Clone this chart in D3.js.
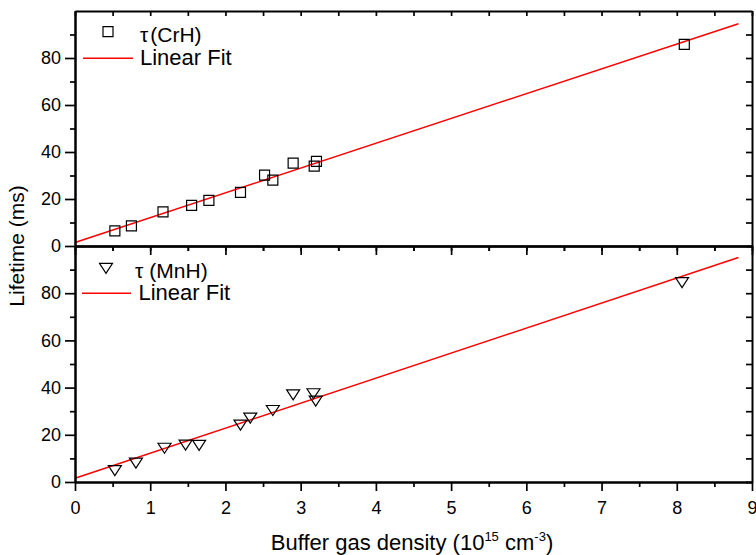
<!DOCTYPE html>
<html>
<head>
<meta charset="utf-8">
<script src="https://cdn.jsdelivr.net/npm/d3@7"></script>
<style>
  html, body { margin: 0; padding: 0; background: #fff; }
  svg { display: block; font-family: "Liberation Sans", Arial, sans-serif; }
</style>
</head>
<body>
<svg id="chart" width="756" height="555"></svg>
<script>
// ---- data ----
const crhDensity = [0.53, 0.75, 1.17, 1.55, 1.78, 2.20, 2.52, 2.63, 2.90, 3.18, 3.21, 8.10];
const crhLifetime = [6.4, 8.6, 14.5, 17.3, 19.4, 22.8, 30.2, 28.0, 35.3, 34.0, 36.0, 85.8];
const mnhDensity = [0.53, 0.81, 1.19, 1.47, 1.65, 2.20, 2.33, 2.63, 2.90, 3.17, 3.20, 8.07];
const mnhLifetime = [4.8, 8.0, 14.3, 15.6, 15.5, 24.1, 27.1, 30.3, 36.9, 37.4, 34.3, 84.5];
const fitX = [0, 8.82];
const fitCrH = [1.5, 94.6];
const fitMnH = [1.6, 95.1];
const xTicks = [0, 1, 2, 3, 4, 5, 6, 7, 8, 9];
const xMinorTicks = [0.5, 1.5, 2.5, 3.5, 4.5, 5.5, 6.5, 7.5, 8.5];
const yTicks = [0, 20, 40, 60, 80];
const yMinorTicks = [10, 30, 50, 70, 90];
const legendCrH = ["τ", "(CrH)"];
const legendMnH = ["τ", "(MnH)"];
const fitLabel = "Linear Fit";
const xTitle = ["Buffer gas density (10", "15", " cm", "-3", ")"];
const yTitle = "Lifetime (ms)";

// ---- layout ----
const svg = d3.select("#chart");
const L = 75, R = 752;
const panels = [
  { top: 11, bottom: 246, xs: crhDensity, ys: crhLifetime, fit: fitCrH, marker: "square", leg: legendCrH },
  { top: 246, bottom: 482, xs: mnhDensity, ys: mnhLifetime, fit: fitMnH, marker: "triangle", leg: legendMnH }
];
const x = d3.scaleLinear().domain([0, 9]).range([L, R]);
const frameW = 2;

function styleAxis(g) {
  g.selectAll("path.domain").attr("stroke", "#000").attr("stroke-width", frameW);
  g.selectAll(".tick line").attr("stroke", "#000").attr("stroke-width", 1.7);
  g.selectAll(".tick text").attr("fill", "#000").attr("font-size", 18)
    .attr("font-family", "'Liberation Sans', Arial, sans-serif");
}

const squareSym = d3.symbol().type(d3.symbolSquare).size(100);
const triSize = { w: 13, h: 10 };

panels.forEach((p, i) => {
  const y = d3.scaleLinear().domain([0, 100]).range([p.bottom, p.top]);
  const g = svg.append("g");

  // fit line
  const line = d3.line().x((d, k) => x(fitX[k])).y(d => y(d));
  g.append("path").datum(p.fit).attr("d", line)
    .attr("fill", "none").attr("stroke", "#ff0000").attr("stroke-width", 1.5);

  // markers
  const pts = p.xs.map((v, k) => [v, p.ys[k]]);
  if (p.marker === "square") {
    g.selectAll("path.pt").data(pts).enter().append("path").attr("class", "pt")
      .attr("d", squareSym)
      .attr("transform", d => `translate(${x(d[0])},${y(d[1])})`)
      .attr("fill", "none").attr("stroke", "#000").attr("stroke-width", 1.2);
  } else {
    const tri = `M${-triSize.w/2},${-triSize.h/2}L${triSize.w/2},${-triSize.h/2}L0,${triSize.h/2}Z`;
    g.selectAll("path.pt").data(pts).enter().append("path").attr("class", "pt")
      .attr("d", tri)
      .attr("transform", d => `translate(${x(d[0])},${y(d[1])})`)
      .attr("fill", "none").attr("stroke", "#000").attr("stroke-width", 1.2);
  }

  // left axis major + minor
  const la = g.append("g").attr("transform", `translate(${L},0)`)
    .call(d3.axisLeft(y).tickValues(yTicks).tickSize(10).tickPadding(4).tickSizeOuter(0));
  styleAxis(la);
  const lm = g.append("g").attr("transform", `translate(${L},0)`)
    .call(d3.axisLeft(y).tickValues(yMinorTicks).tickSize(5).tickFormat("").tickSizeOuter(0));
  styleAxis(lm);

  // right axis (inward ticks)
  const ra = g.append("g").attr("transform", `translate(${R},0)`)
    .call(d3.axisRight(y).tickValues(yMinorTicks.concat(yTicks)).tickSize(-6).tickFormat("").tickSizeOuter(0));
  styleAxis(ra);

  // top axis (inward ticks)
  const ta = g.append("g").attr("transform", `translate(0,${p.top})`)
    .call(d3.axisTop(x).tickValues(xTicks.concat(xMinorTicks)).tickSize(-5).tickFormat("").tickSizeOuter(0));
  styleAxis(ta);

  // bottom axis (outward ticks)
  const ba = g.append("g").attr("transform", `translate(0,${p.bottom})`)
    .call(d3.axisBottom(x).tickValues(xTicks).tickSize(9).tickPadding(10).tickSizeOuter(0)
      .tickFormat(i === 1 ? d3.format("d") : ""));
  styleAxis(ba);
  const bm = g.append("g").attr("transform", `translate(0,${p.bottom})`)
    .call(d3.axisBottom(x).tickValues(xMinorTicks).tickSize(5).tickFormat("").tickSizeOuter(0));
  styleAxis(bm);

  // legend
  const legY1 = p.top + (i === 0 ? 20.7 : 22.3);
  const legY2 = p.top + 47.3;
  const mx = i === 0 ? 108 : 106;
  if (p.marker === "square") {
    g.append("path").attr("d", squareSym).attr("transform", `translate(${mx},${legY1})`)
      .attr("fill", "none").attr("stroke", "#000").attr("stroke-width", 1.2);
  } else {
    const tri = `M${-triSize.w/2},${-triSize.h/2}L${triSize.w/2},${-triSize.h/2}L0,${triSize.h/2}Z`;
    g.append("path").attr("d", tri).attr("transform", `translate(${mx},${legY1})`)
      .attr("fill", "none").attr("stroke", "#000").attr("stroke-width", 1.2);
  }
  const t1 = g.append("text").attr("x", i === 0 ? 140 : 135).attr("y", legY1 + 10)
    .attr("font-size", 21).attr("fill", "#000");
  t1.append("tspan").text(p.leg[0]);
  t1.append("tspan").attr("dx", i === 0 ? 2 : 6).text(p.leg[1]);

  g.append("line").attr("x1", i === 0 ? 83 : 82).attr("x2", i === 0 ? 133 : 131)
    .attr("y1", legY2).attr("y2", legY2)
    .attr("stroke", "#ff0000").attr("stroke-width", 1.5);
  g.append("text").attr("x", i === 0 ? 140 : 138.5).attr("y", legY2 + 7)
    .attr("font-size", 22).attr("fill", "#000").text(fitLabel);
});

// axis titles
svg.append("text")
  .attr("transform", "translate(24,246) rotate(-90)")
  .attr("text-anchor", "middle").attr("font-size", 21).attr("fill", "#000")
  .text(yTitle);

const xt = svg.append("text").attr("x", 412).attr("y", 550)
  .attr("text-anchor", "middle").attr("font-size", 22).attr("fill", "#000");
xt.append("tspan").text(xTitle[0]);
xt.append("tspan").attr("font-size", 13).attr("dy", -9).text(xTitle[1]);
xt.append("tspan").attr("dy", 9).text(xTitle[2]);
xt.append("tspan").attr("font-size", 13).attr("dy", -9).text(xTitle[3]);
xt.append("tspan").attr("dy", 9).text(xTitle[4]);
</script>
</body>
</html>
